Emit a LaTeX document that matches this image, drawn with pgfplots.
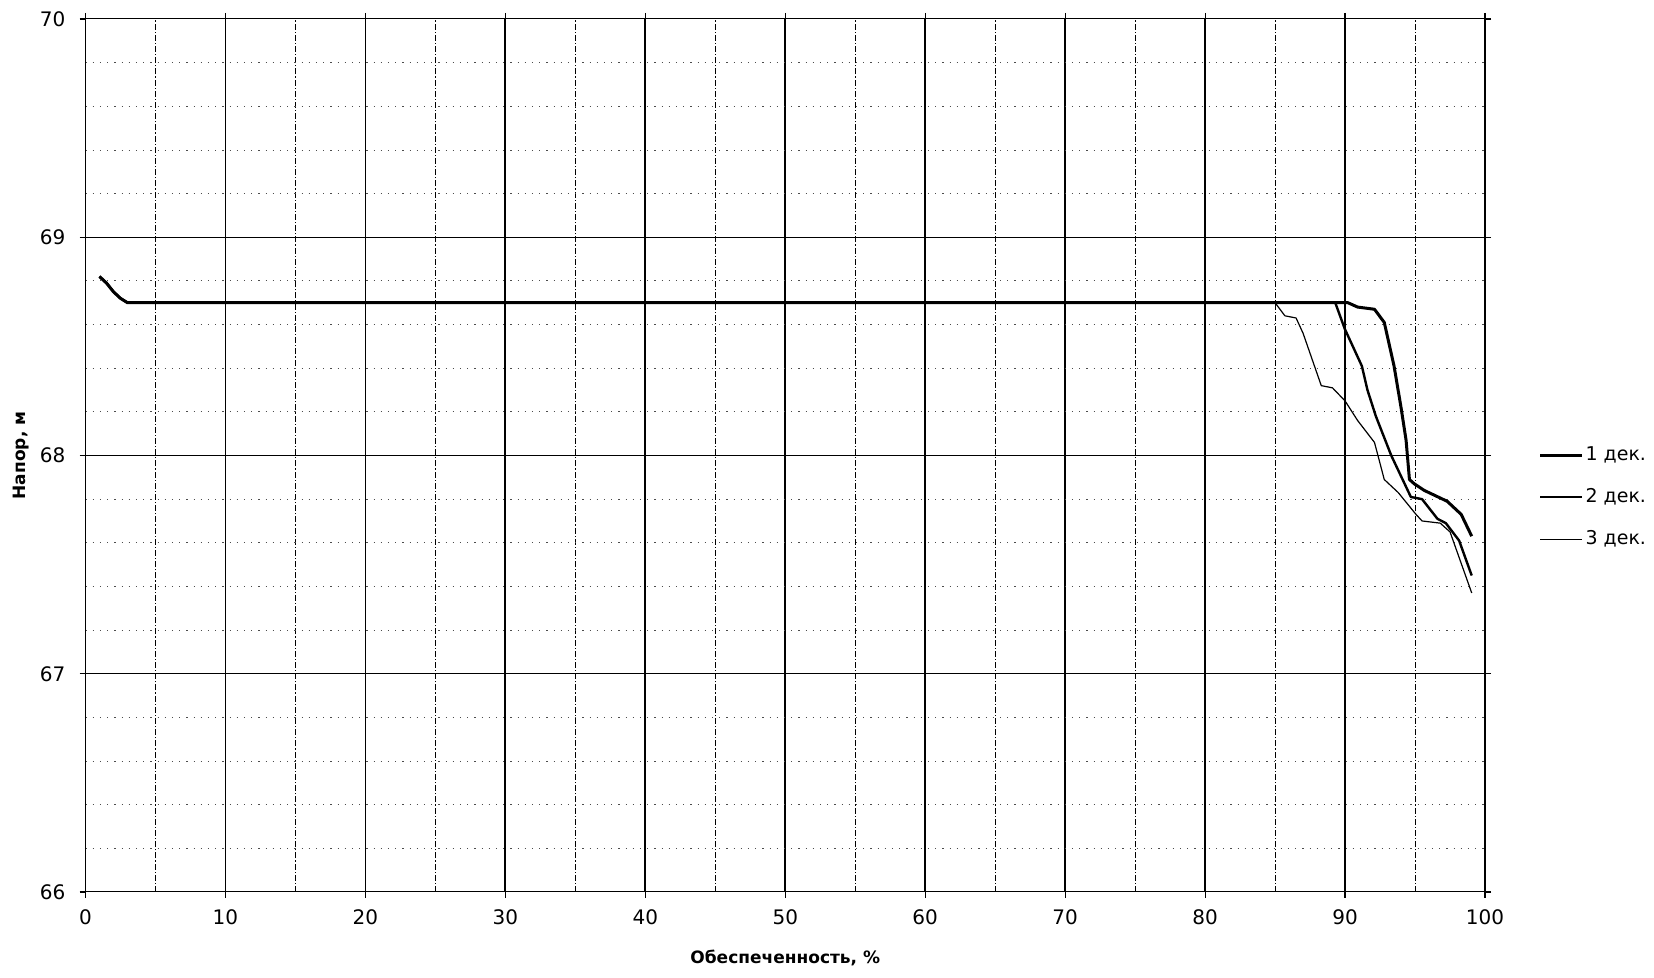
\documentclass[border=0pt]{standalone}
\usepackage{pgfplots}
\pgfplotsset{compat=1.18}
\usepackage{fontspec}
\setmainfont{DejaVu Sans}
\begin{document}
\begin{tikzpicture}
\useasboundingbox (0,0) rectangle (827pt,489pt);
\begin{axis}[
  at={(42.75pt,43pt)}, anchor=south west,
  scale only axis, width=699.75pt, height=436.5pt,
  xmin=0, xmax=100, ymin=66, ymax=70,
  xtick={0,10,...,100}, ytick={66,67,68,69,70},
  minor x tick num=1, minor y tick num=4,
  tick align=outside, major tick length=3pt, minor tick length=0pt,
  tick style={black, line width=0.6pt},
  grid=both,
  major x grid style={black, line width=0.9pt},
  major y grid style={black, line width=0.5pt},
  minor x grid style={black, line width=0.4pt, dash pattern=on 3pt off 1pt on 0.6pt off 1pt},
  minor y grid style={black!70, line width=0.4pt, dash pattern=on 0.6pt off 3pt},
  axis line style={black, line width=0.5pt},
  /pgf/number format/assume math mode=true,
  ticklabel style={font=\fontsize{10}{11}\selectfont},
  xticklabel style={yshift=-2.5pt},
  yticklabel style={xshift=-3.5pt},
  xlabel={Обеспеченность, \%},
  ylabel={Напор, м},
  x label style={at={(axis description cs:0.5,-0.0756)}, anchor=center, font=\bfseries\fontsize{8.5}{10}\selectfont},
  y label style={at={(axis description cs:-0.0461,0.5)}, anchor=center, font=\bfseries\fontsize{8.5}{10}\selectfont},
  legend style={at={(axis description cs:1.038,0.452)}, anchor=west, draw=none, fill=none,
    font=\fontsize{9.5}{10}\selectfont, row sep=10.4pt, inner sep=0pt, nodes={inner sep=1pt}},
  legend cell align=left,
  legend image code/.code={\draw[#1] (0pt,0pt) -- (21pt,0pt);},
]
\addplot[black, line width=1.5pt, line join=round] coordinates {
(1,68.82) (1.5,68.79) (2,68.75) (2.5,68.72) (3,68.70) (3.5,68.70) (90.2,68.70) (90.9,68.68) (92.1,68.67) (92.8,68.61) (93.5,68.41) (94.0,68.22) (94.36,68.07) (94.6,67.89) (94.95,67.87) (95.66,67.84) (97.3,67.79) (98.3,67.73) (99.05,67.63)
};
\addlegendentry{1 дек.}
\addplot[black, line width=1.2pt, line join=round] coordinates {
(1,68.82) (1.5,68.79) (2,68.75) (2.5,68.72) (3,68.70) (3.5,68.70) (89.3,68.70) (89.98,68.58) (91.2,68.41) (91.6,68.30) (92.2,68.18) (93.3,68.0) (94.7,67.81) (95.5,67.80) (96.6,67.71) (97.2,67.69) (98.15,67.61) (99.05,67.45)
};
\addlegendentry{2 дек.}
\addplot[black, line width=0.6pt, line join=round] coordinates {
(1,68.82) (1.5,68.79) (2,68.75) (2.5,68.72) (3,68.70) (3.5,68.70) (85,68.70) (85.7,68.64) (86.5,68.63) (87.0,68.56) (88.3,68.32) (89.1,68.31) (90,68.25) (90.9,68.16) (92.1,68.06) (92.35,68.0) (92.8,67.89) (93.8,67.83) (95.07,67.73) (95.5,67.70) (96.8,67.69) (97.5,67.65) (99.05,67.37)
};
\addlegendentry{3 дек.}
\end{axis}
\end{tikzpicture}
\end{document}
